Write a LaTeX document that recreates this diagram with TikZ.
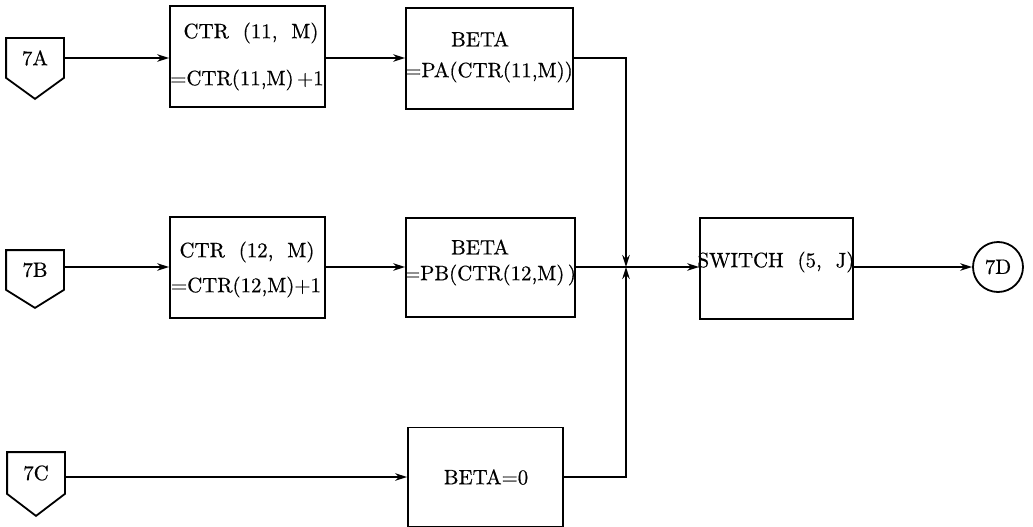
\documentclass[tikz,border=0pt]{standalone}
\usepackage{fontspec}
\usetikzlibrary{arrows.meta,calc}
\newfontfamily\heavyfont{lmroman10-regular.otf}[FakeBold=0.6]
\begin{document}
\begin{tikzpicture}[x=1pt,y=-1pt,
  line width=1.8pt,
  txt/.style={font=\heavyfont\fontsize{20.8}{25}\selectfont, inner sep=0pt},
  box/.style={draw, rectangle, inner sep=0pt},
  conn/.style={rectangle, inner sep=0pt, minimum width=56pt, font=\heavyfont\fontsize{20.8}{25}\selectfont},
  arr/.style={-{Stealth[length=12pt,width=7.5pt]}}]
\useasboundingbox (0,0) rectangle (1033,527);

% off-page connectors
\node[conn, minimum height=38pt] (p7A) at (35,58) {7A};
\draw (p7A.north west) -- (p7A.north east) -- (p7A.south east) -- ($(p7A.south)+(0,21)$) -- (p7A.south west) -- cycle;
\node[conn, minimum height=38pt] (p7B) at (35,270) {7B};
\draw (p7B.north west) -- (p7B.north east) -- (p7B.south east) -- ($(p7B.south)+(0,18)$) -- (p7B.south west) -- cycle;
\node[conn, minimum height=40pt] (p7C) at (36,473) {7C};
\draw (p7C.north west) -- (p7C.north east) -- (p7C.south east) -- ($(p7C.south)+(0,22)$) -- (p7C.south west) -- cycle;

% boxes
\node[box, minimum width=155pt, minimum height=101pt] (b1) at (247.5,56.5) {};
\node[box, minimum width=167pt, minimum height=101pt] (b2) at (489.5,58.5) {};
\node[box, minimum width=155pt, minimum height=101pt] (b3) at (247.5,267.5) {};
\node[box, minimum width=169pt, minimum height=99pt] (b4) at (490.5,267.5) {};
\node[box, minimum width=155pt, minimum height=99pt] (b5) at (485.5,477) {};
\node[box, minimum width=153pt, minimum height=101pt] (sw) at (776.5,268.5) {};
\node[draw, circle, minimum size=50pt, inner sep=0pt, font=\heavyfont\fontsize{20.8}{25}\selectfont] (d7) at (998,267) {7D};

% box texts
\node[txt] (b1a) at (251,33) {CTR\ \ (11,\ \ M)};
\node[txt] (b1b) at (247,80) {=CTR(11,M)\,+1};
\node[txt] (b2a) at (480,39) {BETA};
\node[txt] (b2b) at (489,72) {=PA(CTR(11,M))};
\node[txt] (b3a) at (247,252) {CTR\ \ (12,\ \ M)};
\node[txt] (b3b) at (246,287) {=CTR(12,M)+1};
\node[txt] (b4a) at (480,247) {BETA};
\node[txt] (b4b) at (490,275) {=PB(CTR(12,M)\,)};
\node[txt] (b5a) at (486,477) {BETA=0};
\node[txt] (swa) at (776,262) {SWITCH\ \ (5,\ \ J)};

\coordinate (J) at (626,267);

% connectors
\draw[arr] (p7A.east) -- (b1.west |- p7A.east);
\draw[arr] (b1.east |- p7A.east) -- (b2.west |- p7A.east);
\draw[arr] (p7B.east |- J) -- (b3.west |- J);
\draw[arr] (b3.east |- J) -- (b4.west |- J);
\draw[arr] (p7C.east |- b5.west) -- (b5.west);
\draw[arr] (b2.east |- p7A.east) -| (J);
\draw[arr] (b5.east) -| (J);
\draw[arr] (b4.east |- J) -- (sw.west |- J);
\draw[arr] (sw.east |- d7.west) -- (d7.west);
\end{tikzpicture}
\end{document}
